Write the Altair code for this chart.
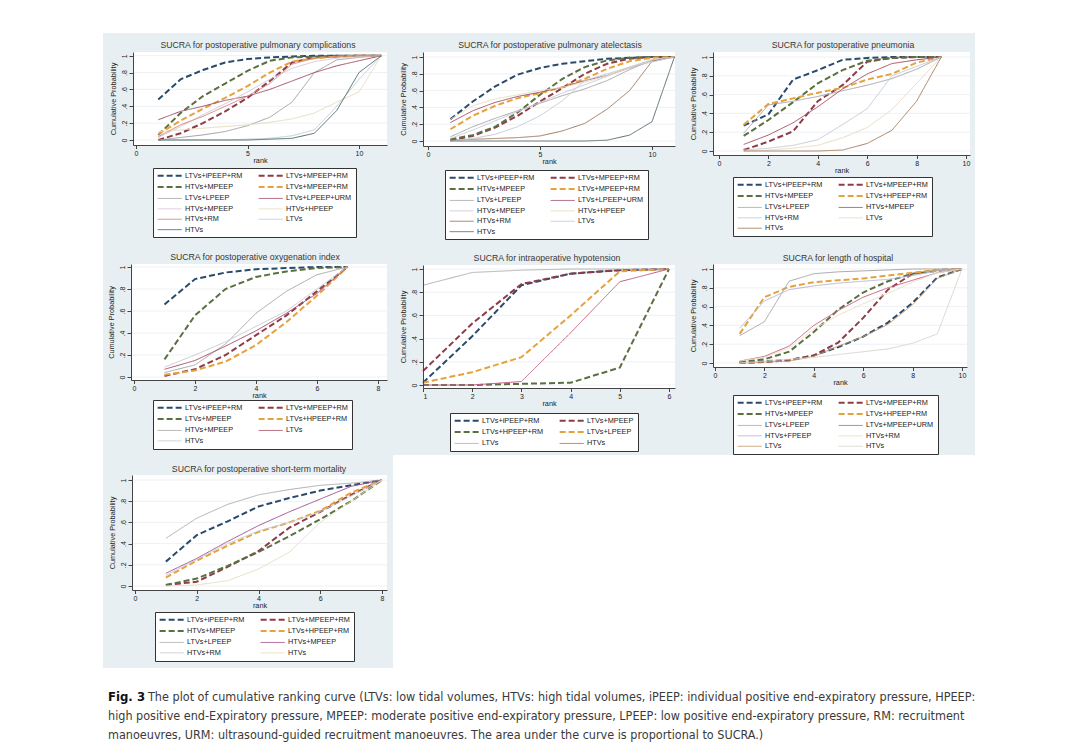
import altair as alt
import pandas as pd

FONT = "Liberation Sans"
CAPFONT = "Liberation Sans Narrow, DejaVu Sans Condensed, sans-serif"
BG = "#e8eff2"
DASH = [6, 3]
SOLID = [1, 0]
NAVY, MAROON, OLIVE, ORANGE = "#2a4a6c", "#8e3b48", "#5b7040", "#e6a23c"

# ---------------- Panel 1 : postoperative pulmonary complications ----------------
p1_title = "SUCRA for  postoperative pulmonary complications"
p1_names = ["LTVs+iPEEP+RM", "LTVs+MPEEP+RM", "HTVs+MPEEP", "LTVs+MPEEP+RM ",
            "LTVs+LPEEP", "LTVs+LPEEP+URM", "HTVs+MPEEP ", "HTVs+HPEEP",
            "HTVs+RM", "LTVs", "HTVs"]
p1_colors = [NAVY, MAROON, OLIVE, ORANGE, "#a3a3a3", "#a24d6a", "#d9c6dc",
             "#e6dfc0", "#d48c7a", "#c7cdd6", "#4f6d6d"]
p1_values = [
    [0.48, 0.72, 0.83, 0.92, 0.96, 0.98, 0.99, 1, 1, 1, 1],
    [0.00, 0.08, 0.20, 0.34, 0.50, 0.70, 0.92, 0.98, 0.99, 1, 1],
    [0.06, 0.32, 0.52, 0.67, 0.82, 0.94, 0.98, 0.99, 1, 1, 1],
    [0.07, 0.23, 0.37, 0.50, 0.64, 0.80, 0.93, 0.97, 0.99, 1, 1],
    [0.00, 0.03, 0.06, 0.10, 0.17, 0.27, 0.45, 0.80, 0.95, 0.98, 1],
    [0.24, 0.34, 0.40, 0.47, 0.52, 0.60, 0.70, 0.80, 0.88, 0.94, 1],
    [0.03, 0.16, 0.30, 0.43, 0.57, 0.72, 0.85, 0.93, 0.97, 0.99, 1],
    [0.10, 0.12, 0.14, 0.16, 0.18, 0.21, 0.25, 0.32, 0.45, 0.57, 1],
    [0.04, 0.18, 0.28, 0.40, 0.52, 0.67, 0.90, 0.97, 0.99, 1, 1],
    [0.00, 0.00, 0.00, 0.00, 0.01, 0.02, 0.05, 0.12, 0.40, 0.72, 1],
    [0.00, 0.00, 0.00, 0.00, 0.00, 0.01, 0.02, 0.08, 0.35, 0.80, 1],
]
p1_xticks = [0, 5, 10]

# ---------------- Panel 2 : postoperative pulmonary atelectasis ----------------
p2_title = "SUCRA for  postoperative pulmonary atelectasis"
p2_names = p1_names
p2_colors = [NAVY, MAROON, OLIVE, ORANGE, "#a8a8a8", "#a0506e", "#d0c8d8",
             "#e6e0c0", "#a07860", "#c4ccd8", "#5f6f6f"]
p2_values = [
    [0.26, 0.47, 0.65, 0.79, 0.87, 0.92, 0.95, 0.98, 0.99, 1, 1],
    [0.01, 0.06, 0.16, 0.30, 0.47, 0.63, 0.80, 0.92, 0.98, 1, 1],
    [0.02, 0.07, 0.17, 0.34, 0.55, 0.74, 0.88, 0.96, 0.99, 1, 1],
    [0.14, 0.30, 0.42, 0.51, 0.57, 0.64, 0.74, 0.86, 0.95, 0.99, 1],
    [0.05, 0.17, 0.27, 0.36, 0.45, 0.54, 0.62, 0.72, 0.85, 0.96, 1],
    [0.22, 0.36, 0.46, 0.53, 0.58, 0.64, 0.72, 0.78, 0.87, 0.96, 1],
    [0.03, 0.13, 0.24, 0.35, 0.46, 0.57, 0.67, 0.77, 0.88, 0.97, 1],
    [0.26, 0.42, 0.50, 0.55, 0.60, 0.64, 0.70, 0.78, 0.87, 0.96, 1],
    [0.01, 0.02, 0.03, 0.04, 0.06, 0.12, 0.21, 0.38, 0.60, 0.95, 1],
    [0.00, 0.03, 0.08, 0.17, 0.30, 0.48, 0.72, 0.80, 0.88, 0.94, 1],
    [0.00, 0.00, 0.00, 0.00, 0.00, 0.00, 0.00, 0.01, 0.07, 0.23, 1],
]
p2_xticks = [0, 5, 10]

# ---------------- Panel 3 : postoperative pneumonia ----------------
p3_title = "SUCRA for  postoperative  pneumonia"
p3_names = ["LTVs+iPEEP+RM", "LTVs+MPEEP+RM", "HTVs+MPEEP", "LTVs+HPEEP+RM",
            "LTVs+LPEEP", "HTVs+MPEEP ", "HTVs+RM", "LTVs", "HTVs"]
p3_colors = [NAVY, MAROON, OLIVE, ORANGE, "#a8a8a8", "#a84d65", "#c4ccd8",
             "#e6dcc0", "#a88060"]
p3_values = [
    [0.27, 0.39, 0.76, 0.86, 0.97, 0.99, 1, 1, 1],
    [0.01, 0.10, 0.21, 0.53, 0.70, 0.95, 0.99, 1, 1],
    [0.16, 0.33, 0.52, 0.72, 0.86, 0.96, 0.99, 1, 1],
    [0.28, 0.50, 0.56, 0.62, 0.67, 0.76, 0.82, 0.94, 1],
    [0.19, 0.49, 0.53, 0.58, 0.64, 0.70, 0.77, 0.87, 1],
    [0.07, 0.17, 0.30, 0.47, 0.66, 0.82, 0.93, 0.97, 1],
    [0.01, 0.03, 0.06, 0.12, 0.28, 0.45, 0.80, 0.90, 1],
    [0.00, 0.01, 0.03, 0.06, 0.14, 0.25, 0.44, 0.72, 1],
    [0.00, 0.00, 0.00, 0.00, 0.01, 0.08, 0.22, 0.53, 1],
]
p3_xticks = [0, 2, 4, 6, 8, 10]

# ---------------- Panel 4 : postoperative oxygenation index ----------------
p4_title = "SUCRA for  postoperative oxygenation index"
p4_names = ["LTVs+iPEEP+RM", "LTVs+MPEEP+RM", "LTVs+MPEEP", "LTVs+HPEEP+RM",
            "HTVs+MPEEP", "LTVs", "HTVs"]
p4_colors = [NAVY, MAROON, OLIVE, ORANGE, "#a8a8a8", "#a84d65", "#c8ccd4"]
p4_values = [
    [0.66, 0.89, 0.95, 0.98, 0.99, 1, 1],
    [0.01, 0.07, 0.20, 0.38, 0.56, 0.78, 1],
    [0.16, 0.56, 0.80, 0.91, 0.96, 0.99, 1],
    [0.02, 0.06, 0.14, 0.29, 0.50, 0.74, 1],
    [0.04, 0.11, 0.30, 0.58, 0.78, 0.93, 1],
    [0.07, 0.15, 0.28, 0.42, 0.58, 0.76, 1],
    [0.09, 0.20, 0.32, 0.46, 0.60, 0.80, 1],
]
p4_xticks = [0, 2, 4, 6, 8]

# ---------------- Panel 5 : intraoperative hypotension ----------------
p5_title = "SUCRA for  intraoperative hypotension"
p5_names = ["LTVs+iPEEP+RM", "LTVs+MPEEP", "LTVs+HPEEP+RM", "LTVs+LPEEP",
            "LTVs", "HTVs"]
p5_colors = [NAVY, MAROON, OLIVE, ORANGE, "#b0b0b0", "#c06080"]
p5_values = [
    [0.02, 0.42, 0.86, 0.96, 0.99, 1],
    [0.12, 0.53, 0.87, 0.96, 0.99, 1],
    [0.00, 0.00, 0.01, 0.02, 0.15, 1],
    [0.02, 0.11, 0.24, 0.60, 0.98, 1],
    [0.86, 0.97, 0.99, 1, 1, 1],
    [0.00, 0.00, 0.03, 0.45, 0.89, 1],
]
p5_xticks = [1, 2, 3, 4, 5, 6]

# ---------------- Panel 6 : length of hospital ----------------
p6_title = "SUCRA for  length of hospital"
p6_names = ["LTVs+iPEEP+RM", "LTVs+MPEEP+RM", "HTVs+MPEEP", "LTVs+HPEEP+RM",
            "LTVs+LPEEP", "LTVs+MPEEP+URM", "HTVs+FPEEP", "HTVs+RM", "LTVs", "HTVs"]
p6_colors = [NAVY, MAROON, OLIVE, ORANGE, "#a8a8a8", "#c86080", "#b8b8d8",
             "#e8e2c4", "#c8a070", "#d8d8d0"]
p6_values = [
    [0.01, 0.02, 0.03, 0.08, 0.17, 0.28, 0.43, 0.64, 0.91, 1],
    [0.00, 0.01, 0.03, 0.08, 0.22, 0.48, 0.78, 0.95, 0.99, 1],
    [0.01, 0.04, 0.12, 0.33, 0.57, 0.75, 0.87, 0.95, 0.98, 1],
    [0.31, 0.70, 0.81, 0.86, 0.88, 0.90, 0.93, 0.96, 0.99, 1],
    [0.29, 0.44, 0.87, 0.95, 0.97, 0.98, 0.99, 1, 1, 1],
    [0.02, 0.07, 0.18, 0.40, 0.56, 0.70, 0.80, 0.88, 0.96, 1],
    [0.37, 0.66, 0.78, 0.82, 0.85, 0.87, 0.89, 0.93, 0.98, 1],
    [0.02, 0.06, 0.16, 0.36, 0.51, 0.63, 0.74, 0.86, 0.96, 1],
    [0.00, 0.01, 0.02, 0.07, 0.18, 0.28, 0.41, 0.62, 0.90, 1],
    [0.00, 0.02, 0.04, 0.06, 0.09, 0.12, 0.15, 0.21, 0.31, 1],
]
p6_xticks = [0, 2, 4, 6, 8, 10]

# ---------------- Panel 7 : postoperative short-term mortality ----------------
p7_title = "SUCRA for  postoperative  short-term mortality"
p7_names = ["LTVs+iPEEP+RM", "LTVs+MPEEP+RM", "HTVs+MPEEP", "LTVs+HPEEP+RM",
            "LTVs+LPEEP", "HTVs+MPEEP ", "HTVs+RM", "HTVs"]
p7_colors = [NAVY, MAROON, OLIVE, ORANGE, "#b0b0b0", "#a05090", "#c8ccd4", "#e8dfc0"]
p7_values = [
    [0.23, 0.48, 0.61, 0.75, 0.83, 0.90, 0.95, 1],
    [0.01, 0.04, 0.18, 0.33, 0.55, 0.70, 0.86, 1],
    [0.01, 0.07, 0.19, 0.32, 0.47, 0.63, 0.80, 1],
    [0.08, 0.24, 0.38, 0.51, 0.60, 0.71, 0.88, 1],
    [0.45, 0.64, 0.77, 0.86, 0.91, 0.95, 0.97, 1],
    [0.12, 0.26, 0.42, 0.57, 0.70, 0.82, 0.94, 1],
    [0.10, 0.25, 0.40, 0.52, 0.60, 0.70, 0.85, 1],
    [0.00, 0.01, 0.05, 0.16, 0.32, 0.60, 0.80, 1],
]
p7_xticks = [0, 2, 4, 6, 8]

y_ticks = [0, 0.2, 0.4, 0.6, 0.8, 1]

caption_bold = "Fig. 3"
caption_lines = [
    "The plot of cumulative ranking curve (LTVs: low tidal volumes, HTVs: high tidal volumes, iPEEP: individual positive end-expiratory pressure, HPEEP:",
    "high positive end-Expiratory pressure, MPEEP: moderate positive end-expiratory pressure, LPEEP: low positive end-expiratory pressure, RM: recruitment",
    "manoeuvres, URM: ultrasound-guided recruitment manoeuvres. The area under the curve is proportional to SUCRA.)",
]


def colmajor(seq):
    # the legend fills its two columns top-down; reorder so it reads row by row
    return list(seq[0::2]) + list(seq[1::2])


def build_panel(title, names, colors, values, xticks, W, H, reg, xcal, ycal,
                legend_xy, title_xy):
    rl, rr, rt, rb = reg
    (xa, pa), (xb, pb) = xcal
    bx = (pb - pa) / (xb - xa)
    x_dom = [xa + (rl - pa) / bx, xa + (rr - pa) / bx]
    p0, p1 = ycal
    by = p1 - p0
    y_dom = [(rb - p0) / by, (rt - p0) / by]

    rows = []
    for name, vals in zip(names, values):
        for r, v in enumerate(vals, start=1):
            rows.append({"rank": r, "prob": v, "series": name})
    df = pd.DataFrame(rows)
    n = len(names)
    dashes = [DASH] * 4 + [SOLID] * (n - 4)
    widths = [2.0] * 4 + [1.0] * (n - 4)

    dom = colmajor(names)
    col_r = colmajor(colors)
    dash_r = colmajor(dashes)
    wid_r = colmajor(widths)

    leg = alt.Legend(
        orient="none", legendX=legend_xy[0], legendY=legend_xy[1], columns=2,
        title=None, symbolType="M0,0H9.6", symbolSize=25, symbolOffset=-3,
        labelOffset=23.7, labelFont=FONT, labelFontSize=7.3, labelColor="#222",
        labelLimit=300, rowPadding=2.4, columnPadding=11, padding=4,
        strokeColor="#333", fillColor="white", cornerRadius=0, zindex=1,
    )

    rect = alt.Chart(pd.DataFrame({"r": [0]})).mark_rect(fill="white").encode(
        x=alt.value(rl), x2=alt.value(rr), y=alt.value(rt), y2=alt.value(rb)
    )

    lines = alt.Chart(df).mark_line().encode(
        x=alt.X("rank:Q",
                scale=alt.Scale(domain=x_dom, range=[rl, rr], nice=False, zero=False),
                axis=alt.Axis(values=xticks, title="rank", offset=-(H - rb),
                              format="d", tickSize=3.5, labelPadding=0.5,
                              labelFont=FONT, labelFontSize=7, labelColor="#222",
                              titleFont=FONT, titleFontSize=7.3, titleColor="#222",
                              titleFontWeight="normal", titlePadding=0,
                              domainColor="#444", tickColor="#444", grid=False,
                              zindex=1)),
        y=alt.Y("prob:Q",
                scale=alt.Scale(domain=y_dom, range=[rb, rt], nice=False, zero=False),
                axis=alt.Axis(values=y_ticks, title="Cumulative Probability",
                              offset=-rl, tickSize=4, labelPadding=2,
                              labelAngle=270, labelAlign="center", labelBaseline="bottom",
                              labelExpr="datum.value == 0 ? '0' : (datum.value > 0.999 ? '1' : '.' + round(datum.value * 10))",
                              labelFont=FONT, labelFontSize=7, labelColor="#222",
                              titleFont=FONT, titleFontSize=7.3, titleColor="#222",
                              titleFontWeight="normal", titlePadding=3,
                              domainColor="#444", tickColor="#444",
                              grid=False, zindex=1)),
        color=alt.Color("series:N", scale=alt.Scale(domain=dom, range=col_r), legend=leg),
        strokeDash=alt.StrokeDash("series:N", scale=alt.Scale(domain=dom, range=dash_r), legend=leg),
        strokeWidth=alt.StrokeWidth("series:N",
                                    scale=alt.Scale(type="ordinal", domain=dom, range=wid_r),
                                    legend=leg),
    )

    grid = alt.Chart(pd.DataFrame({"g": y_ticks})).mark_rule(
        color="#e8eef1", strokeWidth=0.8
    ).encode(y="g:Q", x=alt.value(rl), x2=alt.value(rr))

    ttl = alt.Chart(pd.DataFrame({"t": [title]})).mark_text(
        font=FONT, fontSize=8.7, color="#383838", align="center", baseline="middle"
    ).encode(text="t:N", x=alt.value(title_xy[0]), y=alt.value(title_xy[1]))

    return alt.layer(rect, grid, lines, ttl).properties(
        width=W, height=H, view=alt.ViewBackground(fill=BG, strokeWidth=0)
    )


p1 = build_panel(p1_title, p1_names, p1_colors, p1_values, p1_xticks, 290, 210,
                 (30, 284, 19, 112), ((0, 33), (10, 256)), (107, 22.7), (50, 135), (155, 12))
p2 = build_panel(p2_title, p2_names, p2_colors, p2_values, p2_xticks, 290, 210,
                 (30, 282, 19, 113), ((0, 35), (10, 259)), (108, 24), (52, 137), (157, 12))
p3 = build_panel(p3_title, p3_names, p3_colors, p3_values, p3_xticks, 292, 210,
                 (30, 287, 19, 122), ((0, 36), (10, 283)), (118, 24), (50, 144), (160, 12))
p4 = build_panel(p4_title, p4_names, p4_colors, p4_values, p4_xticks, 290, 212,
                 (28, 284, 21, 137), ((0, 31), (8, 275)), (134, 24), (50, 157), (152, 14))
p5 = build_panel(p5_title, p5_names, p5_colors, p5_values, p5_xticks, 290, 212,
                 (30, 282, 22, 145), ((1, 30), (6, 276)), (142, 26), (57, 170), (154, 15))
p6 = build_panel(p6_title, p6_names, p6_colors, p6_values, p6_xticks, 292, 212,
                 (30, 284, 21, 124), ((0, 32), (10, 279)), (120, 26), (50, 152), (155, 15))
p7 = build_panel(p7_title, p7_names, p7_colors, p7_values, p7_xticks, 290, 213,
                 (29, 284, 20, 135), ((0, 32), (8, 279)), (131, 25), (52, 157), (156, 14))

IND = dict(x="independent", y="independent", color="independent",
           strokeDash="independent", strokeWidth="independent")


def ind(c):
    return c.resolve_scale(**IND).resolve_legend(
        color="independent", strokeDash="independent", strokeWidth="independent"
    ).resolve_axis(x="independent", y="independent")


row1 = ind(alt.hconcat(p1, p2, p3, spacing=0))
row2 = ind(alt.hconcat(p4, p5, p6, spacing=0))
fig = ind(alt.vconcat(row1, row2, p7, spacing=0))

# caption
CAPSIZE = 12.5
cap_y = alt.Y("i:O", axis=None, scale=alt.Scale(domain=[0, 1, 2], paddingInner=0, paddingOuter=0))
bold = alt.Chart(pd.DataFrame({"i": [0], "t": [caption_bold]})).mark_text(
    align="left", baseline="middle", font=CAPFONT, fontSize=13, fontWeight="bold", color="#111"
).encode(text="t:N", x=alt.value(5), y=cap_y)
first = alt.Chart(pd.DataFrame({"i": [0], "t": caption_lines[:1]})).mark_text(
    align="left", baseline="middle", font=CAPFONT, fontSize=CAPSIZE, color="#3a3a3a"
).encode(text="t:N", x=alt.value(45), y=cap_y)
rest = alt.Chart(pd.DataFrame({"i": [1, 2], "t": caption_lines[1:]})).mark_text(
    align="left", baseline="middle", font=CAPFONT, fontSize=CAPSIZE, color="#3a3a3a"
).encode(text="t:N", x=alt.value(5), y=cap_y)
caption = alt.layer(bold, first, rest).properties(
    width=872, height=57, view=alt.ViewBackground(fill="white", strokeWidth=0)
)

chart = alt.vconcat(fig, caption, spacing=19.5).resolve_scale(**IND).resolve_legend(
    color="independent", strokeDash="independent", strokeWidth="independent"
).properties(
    padding={"left": 95, "top": 25, "right": 5, "bottom": 5}, background="white"
).configure_view(strokeWidth=0)

chart.save("out.html", embed_options={"renderer": "svg", "actions": False})
